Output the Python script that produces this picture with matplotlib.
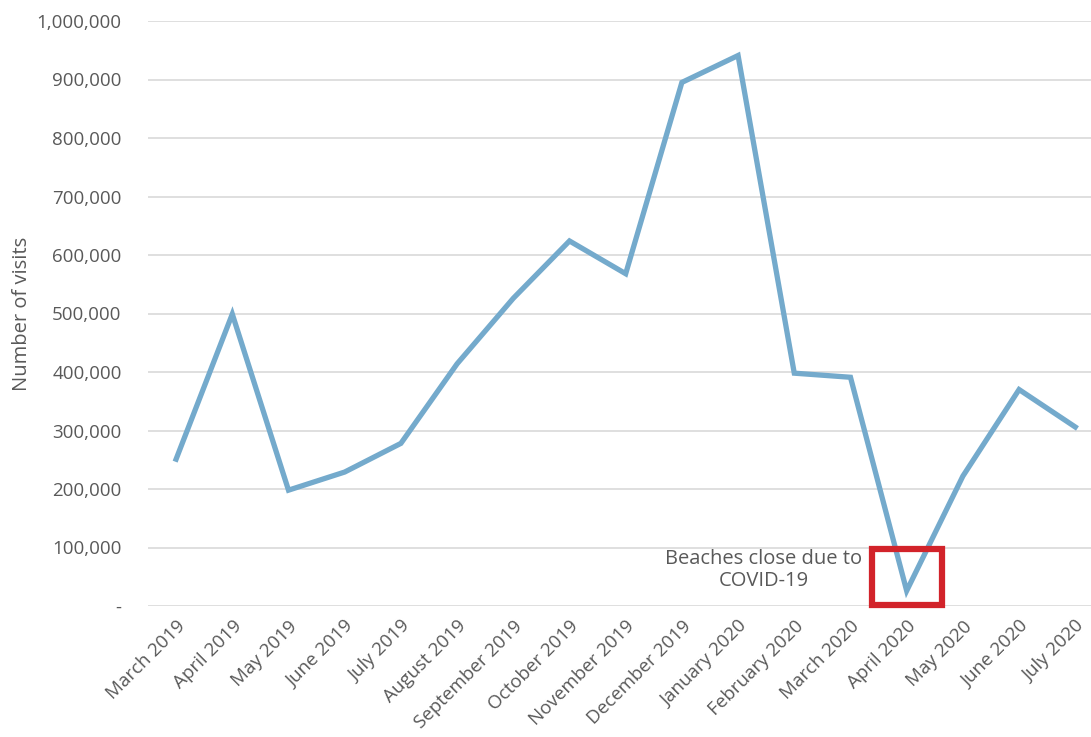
import matplotlib
matplotlib.use("Agg")
import matplotlib.pyplot as plt
from matplotlib.patches import Rectangle
from matplotlib.ticker import FuncFormatter

months = ["March 2019", "April 2019", "May 2019", "June 2019", "July 2019",
          "August 2019", "September 2019", "October 2019", "November 2019",
          "December 2019", "January 2020", "February 2020", "March 2020",
          "April 2020", "May 2020", "June 2020", "July 2020"]
visits = [251000, 499000, 198000, 229000, 278000, 414000, 526000, 624000,
          568000, 895000, 941000, 398000, 391000, 26000, 222000, 370000, 306000]

plt.rcParams['font.family'] = ['Open Sans', 'DejaVu Sans']

fig = plt.figure(figsize=(10.91, 7.37), dpi=100)
ax = fig.add_axes([148/1091, 1-606/737, (1091-148)/1091, (606-21)/737])

x = list(range(len(months)))
ax.plot(x, visits, color='#74AACC', lw=3.8, solid_joinstyle='miter', zorder=3)

ax.set_ylim(0, 1000000)
ax.set_xlim(-0.5, 16.28)
ax.set_yticks(range(0, 1000001, 100000))
ax.yaxis.set_major_formatter(FuncFormatter(lambda v, p: '-' if v == 0 else f'{int(v):,}'))
ax.grid(axis='y', color='#D9D9D9', lw=1.2)
ax.set_axisbelow(True)
for s in ax.spines.values():
    s.set_visible(False)
ax.tick_params(axis='both', length=0, colors='#595959', labelsize=13.5)
ax.tick_params(axis='y', pad=19)
ax.set_xticks(x)
ax.set_xticklabels(months, rotation=45, ha='right', rotation_mode='anchor')
ax.tick_params(axis='x', pad=8)
ax.set_ylabel('Number of visits', color='#595959', fontsize=14.5)
ax.yaxis.set_label_coords(-0.123, 0.5)

# annotation box around April 2020
i = months.index("April 2020")
ax.add_patch(Rectangle((i - 0.62, 2000), 1.24, 95000, fill=False,
                       edgecolor='#D2232A', lw=4.5, zorder=4, clip_on=False))
ax.text(i - 2.55, 62000, 'Beaches close due to\nCOVID-19', ha='center', va='center',
        color='#595959', fontsize=14.5, linespacing=1.15)

fig.savefig('out.png', dpi=100)
